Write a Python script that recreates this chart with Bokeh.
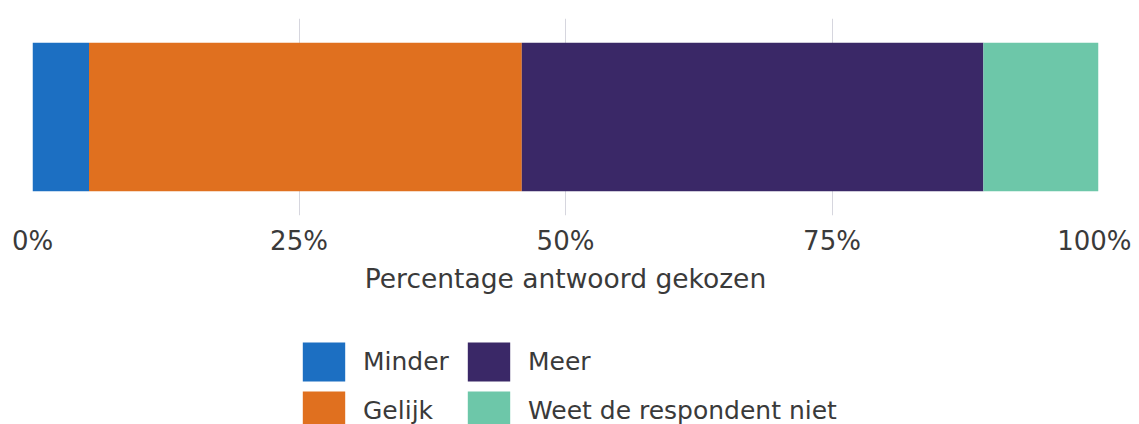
from bokeh.plotting import figure
from bokeh.models import ColumnDataSource, FactorRange, Range1d, FixedTicker, Legend
from bokeh.layouts import column
from bokeh.embed import file_html
from bokeh.resources import INLINE

groups = [""]
categories = ["Minder", "Gelijk", "Meer", "Weet de respondent niet"]
values = [5.3, 40.6, 43.3, 10.8]
colors = ["#1c6fc2", "#e0701f", "#3a2867", "#6dc7a9"]
tick_values = [0, 25, 50, 75, 100]
tick_labels = ["0%", "25%", "50%", "75%", "100%"]
x_title = "Percentage antwoord gekozen"

data = {"group": groups}
for c, v in zip(categories, values):
    data[c] = [v]
source = ColumnDataSource(data)

FONT = "DejaVu Sans"
TXT = "#3a3a3a"
W = 1131

# ---- main chart ----
p = figure(width=W, height=296, y_range=FactorRange(*groups), x_range=Range1d(0, 100),
           output_backend="svg", toolbar_location=None,
           min_border_left=32, min_border_right=33, min_border_top=18, min_border_bottom=78)
p.outline_line_color = None

p.hbar_stack(categories, y="group", height=0.755, color=colors, line_color=None,
             source=source)

p.yaxis.visible = False
p.ygrid.grid_line_color = None
p.xgrid.grid_line_color = "#d6d6de"
p.xgrid.grid_line_width = 1

ax = p.xaxis[0]
ax.ticker = FixedTicker(ticks=tick_values)
ax.major_label_overrides = {v: l for v, l in zip(tick_values, tick_labels)}
ax.axis_line_color = None
ax.major_tick_line_color = None
ax.minor_tick_line_color = None
ax.major_label_text_font = FONT
ax.major_label_text_font_size = "26px"
ax.major_label_text_color = TXT
ax.major_label_standoff = 4
ax.axis_label = x_title
ax.axis_label_text_font = FONT
ax.axis_label_text_font_size = "26.5px"
ax.axis_label_text_font_style = "normal"
ax.axis_label_text_color = TXT
ax.axis_label_standoff = 4

# ---- legend panel ----
q = figure(width=W, height=128, y_range=FactorRange(*groups), x_range=Range1d(0, 100),
           output_backend="svg", toolbar_location=None,
           x_axis_location=None, y_axis_location=None,
           min_border_left=0, min_border_right=0, min_border_top=0, min_border_bottom=0)
q.outline_line_color = None
q.grid.grid_line_color = None
rs = q.hbar_stack(categories, y="group", height=0.755, color=colors, line_color=None,
                  source=source)
for r in rs:
    r.visible = False

lg = Legend(items=[(c, [r]) for c, r in zip(categories, rs)])
lg.location = (265, -11)
lg.orientation = "vertical"
lg.nrows = 2
lg.border_line_color = None
lg.background_fill_alpha = 0
lg.inactive_fill_alpha = 0
lg.padding = 0
lg.margin = 0
lg.spacing = 0
lg.glyph_width = 53
lg.glyph_height = 49
lg.label_standoff = 13
lg.label_width = 99
lg.label_text_font = FONT
lg.label_text_font_size = "25px"
lg.label_text_color = TXT
lg.label_height = 49
q.add_layout(lg, "center")

open("out.html", "w").write(file_html(column(p, q, spacing=0), INLINE))
